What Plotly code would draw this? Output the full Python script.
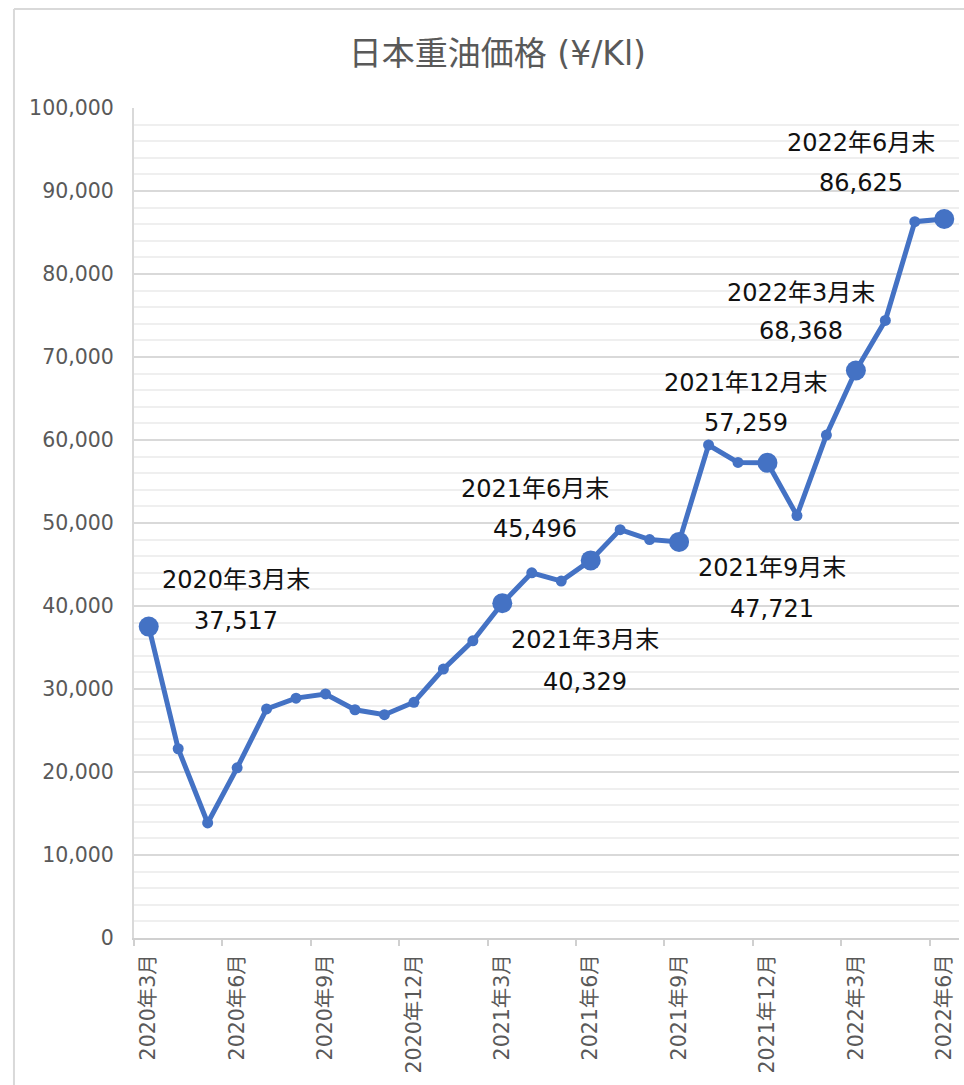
import plotly.graph_objects as go

# ---- data ----
months = [f"{y}年{m}月" for y, m in
          [(2020, m) for m in range(3, 13)] + [(2021, m) for m in range(1, 13)] + [(2022, m) for m in range(1, 7)]]
values = [37517, 22800, 13860, 20500, 27600, 28900, 29400, 27500, 26900, 28400,
          32400, 35800, 40329, 44000, 43000, 45496, 49200, 48000, 47721, 59400,
          57300, 57259, 50900, 60600, 68368, 74400, 86300, 86625]
tick_idx = list(range(0, 28, 3))
tick_labels = [months[i] for i in tick_idx]
label_idx = [0, 12, 15, 18, 21, 24, 27]
# label offsets in px (x, y of first line, y of second line)
label_offsets = {0: (87, 47, 6), 12: (83, -37, -79), 15: (-56, 71, 31), 18: (93, -26, -67),
                 21: (-21, 80, 40), 24: (-55, 78, 40), 27: (-83, 76, 36)}

BLUE = "#4472C4"
FONT = "DejaVu Sans, Noto Sans CJK JP, sans-serif"

x = list(range(len(values)))
sizes = [20 if i in label_idx else 11 for i in x]

fig = go.Figure()
fig.add_trace(go.Scatter(x=x, y=values, mode="lines+markers",
                         line=dict(color=BLUE, width=5),
                         marker=dict(color=BLUE, size=sizes, opacity=1, line=dict(width=0)),
                         hoverinfo="skip", showlegend=False))

for i in label_idx:
    dx, dy1, dy2 = label_offsets[i]
    fig.add_annotation(x=i, y=values[i], text=months[i] + "末", showarrow=False,
                       xshift=dx, yshift=dy1, font=dict(size=24, color="#111111", family=FONT))
    fig.add_annotation(x=i, y=values[i], text=f"{values[i]:,}", showarrow=False,
                       xshift=dx, yshift=dy2, font=dict(size=24, color="#111111", family=FONT))

# chart border (left and top)
fig.add_shape(type="line", xref="paper", yref="paper", x0=-0.1455, x1=-0.1455, y0=-0.2, y1=1.1193,
              line=dict(color="#d9d9d9", width=2))
fig.add_shape(type="line", xref="paper", yref="paper", x0=-0.1455, x1=1.1, y0=1.1193, y1=1.1193,
              line=dict(color="#d9d9d9", width=2))

fig.update_layout(
    width=964, height=1085,
    margin=dict(l=134, r=5, t=108, b=147),
    paper_bgcolor="white", plot_bgcolor="white",
    font=dict(family=FONT, color="#595959"),
    title=dict(text="日本重油価格 (¥/Kl)", x=0.516, xref="container", xanchor="center",
               y=1 - 53 / 1085, yref="container", yanchor="middle",
               font=dict(size=33, color="#595959", family=FONT)),
    xaxis=dict(range=[-0.5, 27.5], tickvals=tick_idx, ticktext=tick_labels, tickangle=-90,
               ticks="", showgrid=False, zeroline=False,
               showline=True, linecolor="#d0d0d0", linewidth=2,
               tickfont=dict(size=20.5, color="#595959"), ticklabelstandoff=6,
               minor=dict(tickvals=[i - 0.5 for i in tick_idx], ticks="outside", ticklen=6,
                          tickcolor="#d0d0d0", tickwidth=2, showgrid=False)),
    yaxis=dict(range=[0, 100000], dtick=10000, tickformat=",", ticks="",
               showgrid=True, gridcolor="#d9d9d9", gridwidth=2, zeroline=False,
               showline=True, linecolor="#d9d9d9", linewidth=2,
               tickfont=dict(size=20.5, color="#595959"), ticklabelstandoff=14,
               minor=dict(dtick=2000, showgrid=True, gridcolor="#efefef", gridwidth=2)),
)

fig.write_html("out.html", config={"displayModeBar": False},
               post_script="document.body.style.margin='0';document.body.style.padding='0';")
